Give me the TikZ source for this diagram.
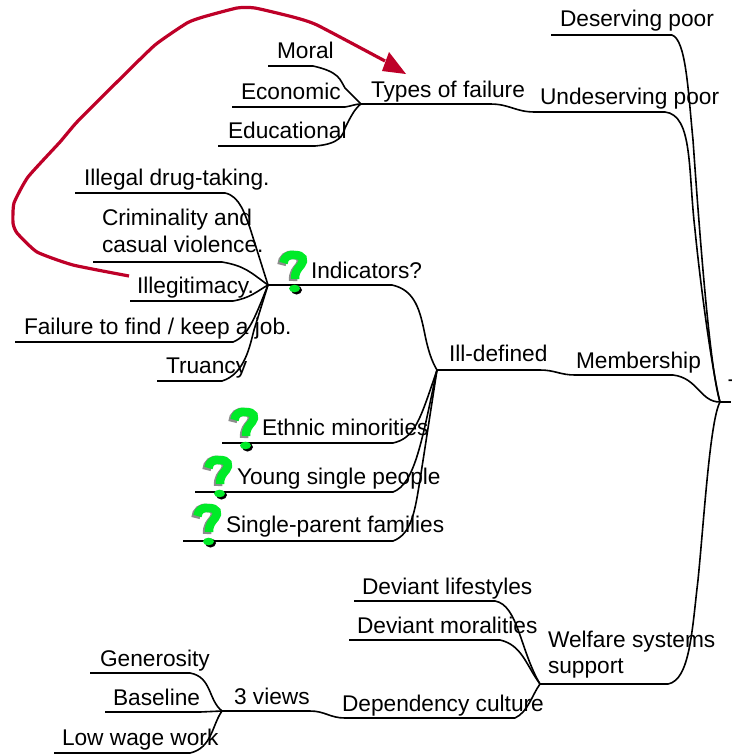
\documentclass[tikz,border=0pt]{standalone}
\usepackage{fontspec}
\setmainfont{Liberation Sans}
\definecolor{qgreen}{RGB}{0,235,40}
\definecolor{qgray}{RGB}{140,140,140}
\definecolor{linkred}{RGB}{190,0,40}
\tikzset{
  lbl/.style={anchor=base west,inner sep=0pt,outer sep=0pt,font=\fontsize{22.7}{26}\selectfont},
  branch/.style={draw=black,line width=1.6pt,line join=round},
  linkline/.style={draw=linkred,line width=3.2pt,line join=round},
  pics/qmark/.style={code={
    \draw[qgray,line width=8.5pt] (3.5,15) .. controls (4,8) and (9,4) .. (15,5)
       .. controls (23,5) and (25,10) .. (21,16) .. controls (18,20) and (15,22) .. (15,31);
    \draw[qgreen,line width=8.5pt] (5.5,13) .. controls (6,7) and (11,4) .. (17,5)
       .. controls (25,5) and (27,10) .. (23,15) .. controls (20,19) and (17,21) .. (17,29);
    \fill[black] (18.5,40) ellipse (5.5 and 4.5);
    \fill[qgreen] (16.5,38.5) ellipse (5.5 and 3.8);
  }}
}
\begin{document}
\begin{tikzpicture}[x=1pt,y=-1pt]
\useasboundingbox (0,0) rectangle (731,755);
% hubs
\coordinate (root) at (720,402);
\coordinate (rootR) at (731,402);
\coordinate (hubTypes) at (361,104);
\coordinate (hubInd) at (268,285);
\coordinate (hubIll) at (437,370);
\coordinate (hubWelf) at (540,684);
\coordinate (hubViews) at (222,711);
% free ends
\coordinate (eDes) at (551,35);
\coordinate (eMoral) at (268,66);
\coordinate (eEcon) at (232,107);
\coordinate (eEdu) at (218,146);
\coordinate (eDrug) at (75,193);
\coordinate (eCrim) at (93,262);
\coordinate (eIlleg) at (130,301);
\coordinate (eFail) at (15,342);
\coordinate (eTru) at (157,381);
\coordinate (eEth) at (222,443);
\coordinate (eYoung) at (195,492);
\coordinate (eSingle) at (183,541);
\coordinate (eLife) at (354,601);
\coordinate (eMoralit) at (349,640);
\coordinate (eGen) at (90,673);
\coordinate (eBase) at (105,712);
\coordinate (eLow) at (54,753);
% connectors
\draw[branch] (root) -- (rootR);
\draw[branch] (eDes) -- (672,35) .. controls (686,40) and (688,90) .. (693,140) .. controls (700,240) and (710,370) .. (root);
\draw[branch] (hubTypes) -- (490,104) .. controls (510,104) and (515,112) .. (535,112) -- (665,112) .. controls (693,115) and (688,170) .. (695,230) .. controls (701,290) and (712,370) .. (root);
\draw[branch] (hubIll) -- (540,370) .. controls (555,370) and (560,375) .. (575,375) -- (673,375) .. controls (698,378) and (700,402) .. (root);
\draw[branch] (hubWelf) -- (668,684) .. controls (690,680) and (692,630) .. (698,580) .. controls (704,520) and (710,420) .. (root);
\draw[branch] (eMoral) -- (313,66) .. controls (340,72) and (340,80) .. (345,88) -- (hubTypes);
\draw[branch] (eEcon) -- (345,107) .. controls (352,106) and (355,104) .. (hubTypes);
\draw[branch] (eEdu) -- (315,146) .. controls (340,144) and (343,135) .. (345,128) .. controls (350,118) and (355,108) .. (hubTypes);
\draw[branch] (hubInd) -- (392,285) .. controls (415,290) and (420,310) .. (425,335) .. controls (428,350) and (432,362) .. (hubIll);
\draw[branch] (eDrug) -- (225,193) .. controls (240,196) and (245,215) .. (250,228) -- (hubInd);
\draw[branch] (eCrim) -- (222,262) .. controls (245,266) and (250,272) .. (hubInd);
\draw[branch] (eIlleg) -- (233,301) .. controls (250,298) and (256,292) .. (hubInd);
\draw[branch] (eFail) -- (233,342) .. controls (248,336) and (254,320) .. (hubInd);
\draw[branch] (eTru) -- (222,381) .. controls (245,374) and (250,345) .. (254,330) -- (hubInd);
\draw[branch] (eEth) -- (393,443) .. controls (415,438) and (420,420) .. (hubIll);
\draw[branch] (eYoung) -- (393,492) .. controls (415,484) and (422,440) .. (hubIll);
\draw[branch] (eSingle) -- (393,541) .. controls (412,534) and (415,510) .. (420,480) -- (hubIll);
\draw[branch] (hubViews) -- (310,711) .. controls (325,711) and (330,718) .. (345,718) -- (515,718) .. controls (528,712) and (532,695) .. (hubWelf);
\draw[branch] (eLife) -- (495,601) .. controls (518,605) and (520,650) .. (hubWelf);
\draw[branch] (eMoralit) -- (500,640) .. controls (522,645) and (526,665) .. (hubWelf);
\draw[branch] (eGen) -- (190,673) .. controls (212,677) and (208,700) .. (hubViews);
\draw[branch] (eBase) -- (200,712) -- (hubViews);
\draw[branch] (eLow) -- (190,753) .. controls (212,748) and (212,725) .. (hubViews);
% labels
\node[lbl] (nDes) at (560,26) {Deserving poor};
\node[lbl] (nUnd) at (540,104) {Undeserving poor};
\node[lbl] (nTypes) at (371,97) {Types of failure};
\node[lbl] (nMoral) at (277,58) {Moral};
\node[lbl] (nEcon) at (241,99) {Economic};
\node[lbl] (nEdu) at (228,138) {Educational};
\node[lbl] (nDrug) at (84,185) {Illegal drug-taking.};
\node[lbl] (nCrim) at (102,225) {Criminality and};
\node[lbl] (nCas) at (102,252) {casual violence.};
\node[lbl] (nIlleg) at (137,293) {Illegitimacy.};
\node[lbl] (nFail) at (24,334) {Failure to find / keep a job.};
\node[lbl] (nTru) at (166,373) {Truancy};
\node[lbl] (nInd) at (311,278) {Indicators?};
\node[lbl] (nIll) at (449,361) {Ill-defined};
\node[lbl] (nMem) at (576,368) {Membership};
\node[lbl] (nEth) at (262,435) {Ethnic minorities};
\node[lbl] (nYoung) at (237,484) {Young single people};
\node[lbl] (nSingle) at (226,532) {Single-parent families};
\node[lbl] (nLife) at (362,594) {Deviant lifestyles};
\node[lbl] (nMoralit) at (357,633) {Deviant moralities};
\node[lbl] (nWelf) at (548,647) {Welfare systems};
\node[lbl] (nSup) at (548,673) {support};
\node[lbl] (nDep) at (342,711) {Dependency culture};
\node[lbl] (nViews) at (234,704) {3 views};
\node[lbl] (nGen) at (100,666) {Generosity};
\node[lbl] (nBase) at (113,705) {Baseline};
\node[lbl] (nLow) at (62,745) {Low wage work};
\node[lbl] (nRoot) at (728,395) {T};
% question marks
\pic at (278,250) {qmark};
\pic at (229,407) {qmark};
\pic at (203,455) {qmark};
\pic at (192,503) {qmark};
% red link
\coordinate (linkStart) at (129,276);
\coordinate (linkEnd) at (385,61);
\coordinate (tipA) at (406,74);
\coordinate (tipB) at (389,52);
\coordinate (tipC) at (382,71);
\draw[linkline] plot[smooth,tension=0.3] coordinates {(linkStart) (73,265) (37,252) (17,233) (13,223) (14,203) (28,177) (60,142) (77,122) (117,82) (155,45) (187,23) (203,17) (237,8) (255,8) (293,17) (317,25) (linkEnd)};
\fill[linkred] (tipA) -- (tipB) -- (tipC) -- cycle;
\end{tikzpicture}
\end{document}
